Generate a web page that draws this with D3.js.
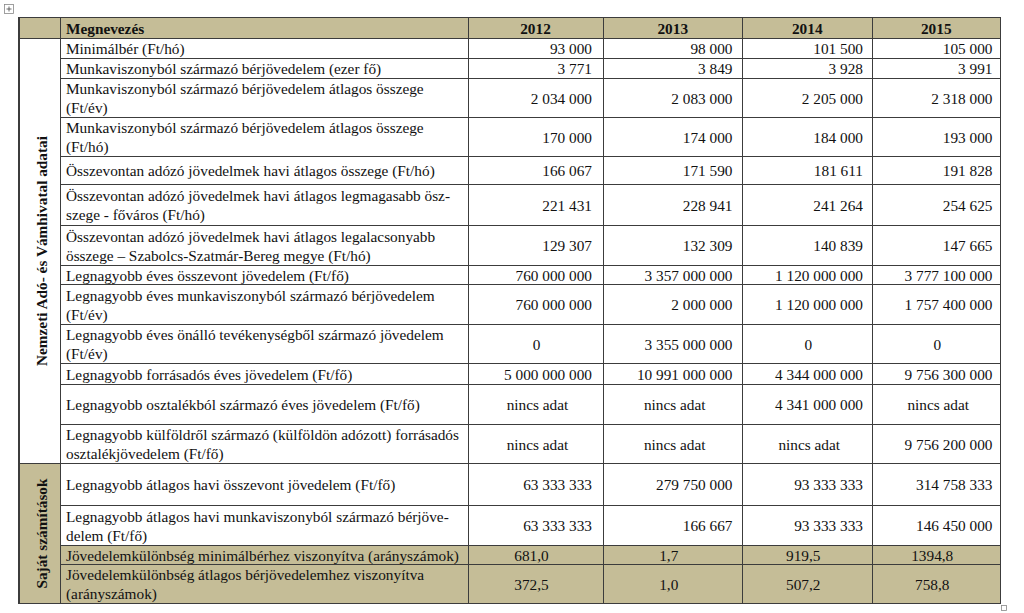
<!DOCTYPE html>
<html><head><meta charset="utf-8">
<script src="https://cdn.jsdelivr.net/npm/d3@7"></script>
<style>body{margin:0;background:#fff}svg{display:block}</style>
</head><body>
<svg id="c" width="1024" height="613"></svg>
<script>
// ---- data ----
const headerLabel = "Megnevezés";
const years = ["2012", "2013", "2014", "2015"];
const sectionLabels = ["Nemzeti Adó- és Vámhivatal adatai", "Saját számítások"];
const rowSection = [0,0,0,0,0,0,0,0,0,0,0,0,0,1,1,1,1];
const rowKind = ["int","int","int","int","int","int","int","int","int","int","int","int","int","int","int","ratio","ratio"];
const rowLabels = [
  "Minimálbér (Ft/hó)",
  "Munkaviszonyból származó bérjövedelem (ezer fő)",
  "Munkaviszonyból származó bérjövedelem átlagos összege\n(Ft/év)",
  "Munkaviszonyból származó bérjövedelem átlagos összege\n(Ft/hó)",
  "Összevontan adózó jövedelmek havi átlagos összege (Ft/hó)",
  "Összevontan adózó jövedelmek havi átlagos legmagasabb ösz-\nszege - főváros (Ft/hó)",
  "Összevontan adózó jövedelmek havi átlagos legalacsonyabb\nösszege – Szabolcs-Szatmár-Bereg megye (Ft/hó)",
  "Legnagyobb éves összevont jövedelem (Ft/fő)",
  "Legnagyobb éves munkaviszonyból származó bérjövedelem\n(Ft/év)",
  "Legnagyobb éves önálló tevékenységből származó jövedelem\n(Ft/év)",
  "Legnagyobb forrásadós éves jövedelem (Ft/fő)",
  "Legnagyobb osztalékból származó éves jövedelem (Ft/fő)",
  "Legnagyobb külföldről származó (külföldön adózott) forrásadós\nosztalékjövedelem (Ft/fő)",
  "Legnagyobb átlagos havi összevont jövedelem (Ft/fő)",
  "Legnagyobb átlagos havi munkaviszonyból származó bérjöve-\ndelem (Ft/fő)",
  "Jövedelemkülönbség minimálbérhez viszonyítva (arányszámok)",
  "Jövedelemkülönbség átlagos bérjövedelemhez viszonyítva\n(arányszámok)"
];
const noData = "nincs adat";
const values2012 = [93000, 3771, 2034000, 170000, 166067, 221431, 129307, 760000000, 760000000, 0, 5000000000, null, null, 63333333, 63333333, 681.0, 372.5];
const values2013 = [98000, 3849, 2083000, 174000, 171590, 228941, 132309, 3357000000, 2000000, 3355000000, 10991000000, null, null, 279750000, 166667, 1.7, 1.0];
const values2014 = [101500, 3928, 2205000, 184000, 181611, 241264, 140839, 1120000000, 1120000000, 0, 4344000000, 4341000000, null, 93333333, 93333333, 919.5, 507.2];
const values2015 = [105000, 3991, 2318000, 193000, 191828, 254625, 147665, 3777100000, 1757400000, 0, 9756300000, null, 9756200000, 314758333, 146450000, 1394.8, 758.8];
const seriesValues = [values2012, values2013, values2014, values2015];

// ---- layout / style ----
const tan = "#c5bd97";
const lineCol = "#3c3c3c";
const fontFam = "'Liberation Serif','Times New Roman',serif";
const fs = 15.3;
const colEdges = [19, 60, 468, 603, 742.5, 872, 1000.5];
const rightPad = [11, 10, 9, 8];
const headerTop = 17.5, headerH = 21;
const rowHeights = [19.5, 20.5, 39, 39, 28, 41, 40, 19, 40, 39, 21, 40, 39, 42, 40, 19, 39];
const lineGap = 19;

const hu = d3.formatLocale({decimal: ",", thousands: "\u00a0", grouping: [3], currency: ["", " Ft"]});
const fmtInt = hu.format(",d");
const fmtRatio = hu.format(".1f");

const svg = d3.select("#c");
const rowTops = [];
let acc = headerTop + headerH;
rowHeights.forEach(h => { rowTops.push(acc); acc += h; });
const tableBottom = acc;

const yRow = d3.scaleOrdinal().domain(d3.range(rowLabels.length)).range(rowTops);
const xCol = d3.scaleOrdinal().domain(years).range(colEdges.slice(2, 6));
const colW = y => colEdges[years.indexOf(y) + 3] - colEdges[years.indexOf(y) + 2];

// backgrounds
svg.append("rect").attr("x", colEdges[0]).attr("y", headerTop).attr("width", colEdges[6]-colEdges[0]).attr("height", headerH).attr("fill", tan);
rowLabels.forEach((l, i) => {
  if (rowKind[i] === "ratio") {
    svg.append("rect").attr("x", colEdges[1]).attr("y", yRow(i)).attr("width", colEdges[6]-colEdges[1]).attr("height", rowHeights[i]).attr("fill", tan);
  }
});
// section label cells
const secRange = s => {
  const idx = d3.range(rowLabels.length).filter(i => rowSection[i] === s);
  return [yRow(idx[0]), yRow(idx[idx.length-1]) + rowHeights[idx[idx.length-1]]];
};
sectionLabels.forEach((lab, s) => {
  const [y0, y1] = secRange(s);
  if (s === 1) svg.append("rect").attr("x", colEdges[0]).attr("y", y0).attr("width", colEdges[1]-colEdges[0]).attr("height", y1-y0).attr("fill", tan);
  svg.append("text")
    .attr("transform", `translate(${(colEdges[0]+colEdges[1])/2 + 2},${(y0+y1)/2}) rotate(-90)`)
    .attr("text-anchor", "middle").attr("dominant-baseline", "central")
    .attr("font-family", fontFam).attr("font-size", fs).attr("font-weight", "bold").attr("fill", "#111")
    .text(lab);
});

// header text
svg.append("text").attr("x", colEdges[1] + 6).attr("y", headerTop + headerH/2)
  .attr("dominant-baseline", "central").attr("font-family", fontFam).attr("font-size", fs).attr("font-weight", "bold").attr("fill", "#111").text(headerLabel);
years.forEach(y => {
  svg.append("text").attr("x", xCol(y) + colW(y)/2).attr("y", headerTop + headerH/2)
    .attr("text-anchor", "middle").attr("dominant-baseline", "central")
    .attr("font-family", fontFam).attr("font-size", fs).attr("font-weight", "bold").attr("fill", "#111").text(y);
});

// row labels
rowLabels.forEach((lab, i) => {
  const lines = lab.split("\n");
  const cy = yRow(i) + rowHeights[i]/2;
  const t = svg.append("text").attr("font-family", fontFam).attr("font-size", fs).attr("fill", "#111");
  lines.forEach((ln, k) => {
    t.append("tspan").attr("x", colEdges[1] + 6)
      .attr("y", cy + (k - (lines.length-1)/2) * lineGap)
      .attr("dominant-baseline", "central").text(ln);
  });
});

// values
years.forEach((y, c) => {
  seriesValues[c].forEach((v, i) => {
    const cy = yRow(i) + rowHeights[i]/2;
    let txt, anchor, x;
    if (v === null) { txt = noData; anchor = "middle"; x = xCol(y) + colW(y)/2 + 2; }
    else if (rowKind[i] === "ratio") { txt = fmtRatio(v); anchor = "middle"; x = xCol(y) + colW(y)/2 - 4; }
    else if (v === 0) { txt = "0"; anchor = "middle"; x = xCol(y) + colW(y)/2 + 1; }
    else { txt = fmtInt(v); anchor = "end"; x = xCol(y) + colW(y) - rightPad[c]; }
    svg.append("text").attr("x", x).attr("y", cy).attr("text-anchor", anchor)
      .attr("dominant-baseline", "central").attr("font-family", fontFam).attr("font-size", fs).attr("fill", "#111").text(txt);
  });
});

// grid lines
const g = svg.append("g").attr("stroke", lineCol).attr("stroke-width", 1).attr("fill", "none").attr("shape-rendering", "crispEdges");
// horizontal
g.append("line").attr("x1", colEdges[0]).attr("x2", colEdges[6]).attr("y1", headerTop + headerH).attr("y2", headerTop + headerH);
rowLabels.forEach((l, i) => {
  const yb = yRow(i) + rowHeights[i];
  if (i === rowLabels.length - 1) return;
  const full = rowSection[i] !== rowSection[i+1];
  g.append("line").attr("x1", full ? colEdges[0] : colEdges[1]).attr("x2", colEdges[6]).attr("y1", yb).attr("y2", yb);
});
// vertical
colEdges.slice(1, 6).forEach(x => {
  g.append("line").attr("x1", x).attr("x2", x).attr("y1", headerTop).attr("y2", tableBottom);
});
// outer border
g.append("rect").attr("x", colEdges[0]).attr("y", headerTop).attr("width", colEdges[6]-colEdges[0]).attr("height", tableBottom-headerTop).attr("stroke-width", 1.5);

// table handles
const h = svg.append("g").attr("fill", "none").attr("stroke", "#888").attr("stroke-width", 0.8);
h.append("rect").attr("x", 4.5).attr("y", 4.5).attr("width", 9).attr("height", 9).attr("fill", "#fff");
h.append("line").attr("x1", 6.5).attr("x2", 11.5).attr("y1", 9).attr("y2", 9).attr("stroke", "#444");
h.append("line").attr("x1", 9).attr("x2", 9).attr("y1", 6.5).attr("y2", 11.5).attr("stroke", "#444");
h.append("rect").attr("x", 1001.5).attr("y", 605.5).attr("width", 5).attr("height", 5);
</script>
</body></html>
